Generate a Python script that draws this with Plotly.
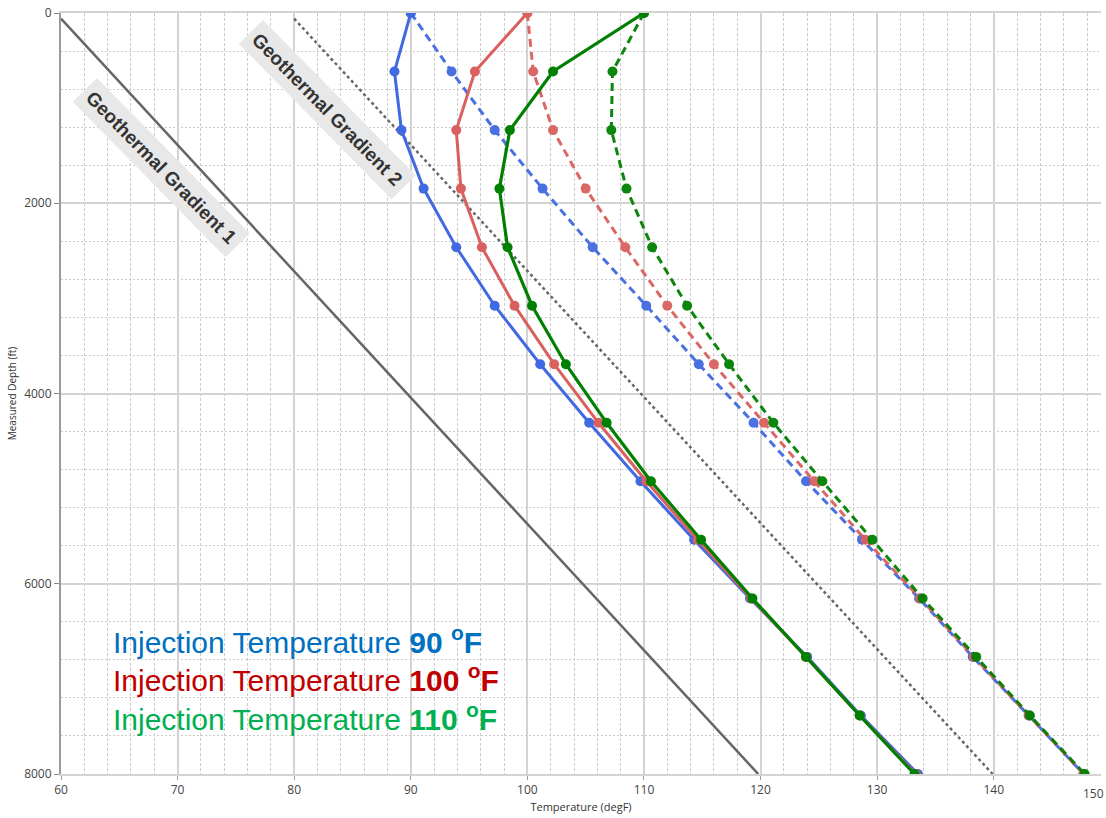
import plotly.graph_objects as go

# Measured depth of each simulated station (ft)
depth_ft = [0, 615, 1231, 1846, 2462, 3077, 3692, 4308, 4923, 5538, 6154, 6769, 7385, 8000]

# Solid profiles
temp_90_solid = [90.0, 88.6, 89.2, 91.1, 93.9, 97.2, 101.1, 105.3, 109.7, 114.3, 119.1, 124.0, 128.6, 133.5]
temp_100_solid = [100.0, 95.5, 93.9, 94.3, 96.1, 98.9, 102.3, 106.1, 110.2, 114.6, 119.2, 123.9, 128.5, 133.3]
temp_110_solid = [110.0, 102.2, 98.5, 97.6, 98.3, 100.4, 103.3, 106.8, 110.6, 114.9, 119.3, 123.9, 128.5, 133.2]

# Dashed profiles
temp_90_dash = [90.0, 93.5, 97.2, 101.3, 105.6, 110.2, 114.7, 119.4, 123.9, 128.7, 133.6, 138.2, 143.0, 147.7]
temp_100_dash = [100.0, 100.5, 102.2, 105.0, 108.4, 112.0, 116.0, 120.3, 124.6, 129.0, 133.7, 138.3, 143.0, 147.7]
temp_110_dash = [110.0, 107.3, 107.2, 108.5, 110.7, 113.7, 117.3, 121.1, 125.3, 129.6, 133.9, 138.5, 143.1, 147.8]

# Geothermal gradients (end points)
grad1_temp = [60.0, 119.8]
grad2_temp = [80.0, 139.9]
grad_depth = [60, 8000]

legend_labels = ["90", "100", "110"]
x_ticks = [60, 70, 80, 90, 100, 110, 120, 130, 140]
y_ticks = [0, 2000, 4000, 6000, 8000]

BLUE = "#4169E1"
RED = "#D9605F"
GREEN = "#008000"

fig = go.Figure()

# Geothermal gradient lines
fig.add_trace(go.Scatter(x=grad1_temp, y=grad_depth, mode="lines",
                         line=dict(color="#666666", width=2.5), showlegend=False))
fig.add_trace(go.Scatter(x=grad2_temp, y=grad_depth, mode="lines",
                         line=dict(color="#666666", width=2.5, dash="dot"), showlegend=False))

# Dashed profiles
for vals, col in [(temp_90_dash, BLUE), (temp_100_dash, RED), (temp_110_dash, GREEN)]:
    fig.add_trace(go.Scatter(x=vals, y=depth_ft, mode="lines+markers",
                             line=dict(color=col, width=3, dash="8px,5px"),
                             marker=dict(color=col, size=10),
                             opacity=0.95, showlegend=False))

# Solid profiles
for vals, col, w in [(temp_90_solid, BLUE, 3), (temp_100_solid, RED, 3), (temp_110_solid, GREEN, 3.2)]:
    fig.add_trace(go.Scatter(x=vals, y=depth_ft, mode="lines+markers",
                             line=dict(color=col, width=w),
                             marker=dict(color=col, size=10),
                             showlegend=False))

# Gradient labels along the lines
for txt, x, y in [("Geothermal Gradient 1", 68.6, 1621), ("Geothermal Gradient 2", 82.84, 1012)]:
    fig.add_annotation(x=x, y=y, text="<b>" + txt + "</b>", showarrow=False,
                       textangle=45.5, bgcolor="#E8E8E8", borderpad=6,
                       font=dict(family="Liberation Sans, Arial", size=19, color="#333333"))

# Injection temperature key
key_colors = ["#0070C0", "#C00000", "#00B050"]
key_depths = [6590, 6995, 7405]
for lab, col, yv in zip(legend_labels, key_colors, key_depths):
    fig.add_annotation(x=64.29, y=yv, xanchor="left", yanchor="middle", showarrow=False,
                       text="Injection Temperature <b>" + lab + " <sup>o</sup>F</b>",
                       font=dict(family="Liberation Sans, Arial", size=30, color=col))

# Last x tick label sitting at the right edge
fig.add_annotation(xref="paper", yref="paper", x=1, y=0, xanchor="right", yanchor="top",
                   xshift=5, yshift=-9, showarrow=False, text="150",
                   font=dict(family="Open Sans, Noto Sans", size=12, color="#444444"))

fig.update_xaxes(range=[60, 149.2], tickvals=x_ticks, ticks="outside", ticklen=4,
                 tickcolor="#999999", showgrid=True, gridcolor="#D3D3D3", gridwidth=2,
                 minor=dict(dtick=2, showgrid=True, gridcolor="#CCCCCC", gridwidth=1, griddash="3px,2px"),
                 showline=True, linecolor="#D3D3D3", linewidth=2, mirror=True, zeroline=False,
                 tickfont=dict(family="Open Sans, Noto Sans", size=12, color="#444444"),
                 title=dict(text="Temperature (degF)", standoff=6,
                            font=dict(family="Open Sans, Noto Sans", size=11, color="#333333")))
fig.update_yaxes(range=[8000, 0], tickvals=y_ticks, ticks="outside", ticklen=5,
                 tickcolor="#888888", showgrid=True, gridcolor="#D3D3D3", gridwidth=2,
                 minor=dict(dtick=400, showgrid=True, gridcolor="#CCCCCC", gridwidth=1, griddash="2px,2px"),
                 showline=True, linecolor="#9A9A9A", linewidth=2, zeroline=False,
                 tickfont=dict(family="Open Sans, Noto Sans", size=12, color="#444444"),
                 title=dict(text="Measured Depth (ft)", standoff=6,
                            font=dict(family="Open Sans, Noto Sans", size=10, color="#333333")))

fig.update_layout(width=1106, height=818, plot_bgcolor="white", paper_bgcolor="white",
                  margin=dict(l=61, r=5, t=13, b=44), showlegend=False)

fig.write_html("out.html")
